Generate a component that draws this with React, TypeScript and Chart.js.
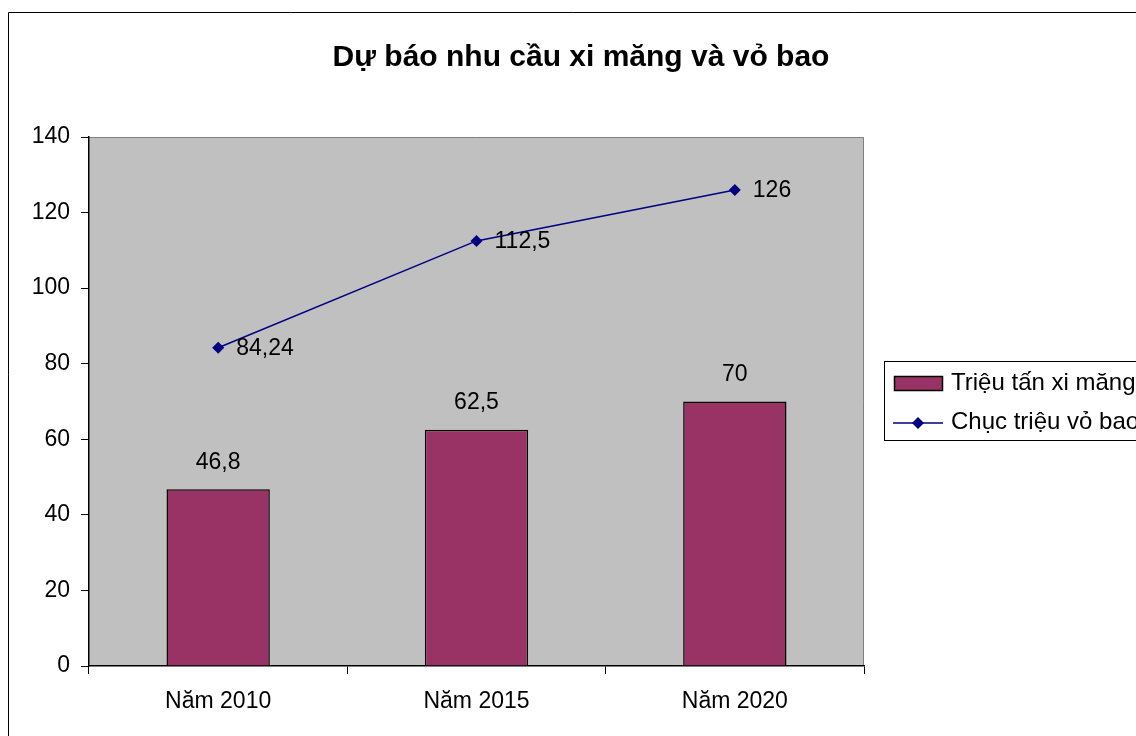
import React, { useEffect, useRef } from "react";
import { Chart, registerables } from "chart.js";

Chart.register(...registerables);

const categories = ["Năm 2010", "Năm 2015", "Năm 2020"];
const cementValues = [46.8, 62.5, 70];
const bagValues = [84.24, 112.5, 126];
const seriesNames = ["Triệu tấn xi măng", "Chục triệu vỏ bao"];
const titleText = "Dự báo nhu cầu xi măng và vỏ bao";

const FONT = "'Liberation Sans', Arial, sans-serif";
const LABEL_SIZE = 23;
const fmt = (v: number) => String(v).replace(".", ",");

const decorPlugin = {
  id: "decor",
  beforeDraw(chart: any) {
    const { ctx, chartArea } = chart;
    const { left, top, right, bottom } = chartArea;
    ctx.save();
    ctx.fillStyle = "#ffffff";
    ctx.fillRect(0, 0, chart.width, chart.height);
    // outer border
    ctx.strokeStyle = "#000000";
    ctx.lineWidth = 1;
    ctx.beginPath();
    ctx.moveTo(8.5, chart.height + 2);
    ctx.lineTo(8.5, 12.5);
    ctx.lineTo(chart.width + 2, 12.5);
    ctx.stroke();
    // plot area
    ctx.fillStyle = "#C0C0C0";
    ctx.fillRect(left, top, right - left, bottom - top);
    ctx.strokeStyle = "#808080";
    ctx.beginPath();
    ctx.moveTo(left, top + 0.5);
    ctx.lineTo(right - 0.5, top + 0.5);
    ctx.lineTo(right - 0.5, bottom);
    ctx.stroke();
    // title
    ctx.fillStyle = "#000000";
    ctx.font = `bold 30px ${FONT}`;
    ctx.textAlign = "center";
    ctx.textBaseline = "alphabetic";
    ctx.fillText(titleText, 581, 66);
    ctx.restore();
  },
  afterDatasetsDraw(chart: any) {
    const { ctx } = chart;
    ctx.save();
    ctx.fillStyle = "#000000";
    ctx.font = `${LABEL_SIZE}px ${FONT}`;
    // bar labels
    const barMeta = chart.getDatasetMeta(0);
    ctx.textAlign = "center";
    ctx.textBaseline = "middle";
    barMeta.data.forEach((el: any, i: number) => {
      ctx.fillText(fmt(cementValues[i]), el.x, el.y - 27);
    });
    // line labels
    const lineMeta = chart.getDatasetMeta(1);
    ctx.textAlign = "left";
    lineMeta.data.forEach((el: any, i: number) => {
      ctx.fillText(fmt(bagValues[i]), el.x + 18, el.y + 1);
    });
    // legend
    const lx = 884.5, ly = 361.5, lw = 300, lh = 79;
    ctx.strokeStyle = "#000000";
    ctx.lineWidth = 1;
    ctx.strokeRect(lx, ly, lw, lh);
    ctx.fillStyle = "#993366";
    ctx.fillRect(894, 376, 49, 14);
    ctx.lineWidth = 1.5;
    ctx.strokeRect(894.5, 376.5, 48, 14);
    ctx.fillStyle = "#000000";
    ctx.font = `24px ${FONT}`;
    ctx.textBaseline = "middle";
    ctx.fillText(seriesNames[0], 951, 383);
    ctx.strokeStyle = "#000080";
    ctx.lineWidth = 1.5;
    ctx.beginPath();
    ctx.moveTo(893, 423);
    ctx.lineTo(943, 423);
    ctx.stroke();
    ctx.fillStyle = "#000080";
    ctx.beginPath();
    ctx.moveTo(918, 417);
    ctx.lineTo(924, 423);
    ctx.lineTo(918, 429);
    ctx.lineTo(912, 423);
    ctx.closePath();
    ctx.fill();
    ctx.fillStyle = "#000000";
    ctx.fillText(seriesNames[1], 951, 422);
    ctx.restore();
  },
};

export default function App() {
  const canvasRef = useRef<HTMLCanvasElement | null>(null);

  useEffect(() => {
    if (!canvasRef.current) return;
    const chart = new Chart(canvasRef.current, {
      type: "bar",
      data: {
        labels: categories,
        datasets: [
          {
            type: "bar",
            label: seriesNames[0],
            data: cementValues,
            backgroundColor: "#993366",
            borderColor: "#000000",
            borderWidth: 1.5,
            barPercentage: 0.4,
            categoryPercentage: 1,
            order: 2,
          },
          {
            type: "line",
            label: seriesNames[1],
            data: bagValues,
            borderColor: "#000080",
            backgroundColor: "#000080",
            borderWidth: 1.5,
            pointStyle: "rectRot",
            pointRadius: 6,
            pointBorderWidth: 0,
            tension: 0,
            order: 1,
          },
        ],
      },
      options: {
        responsive: false,
        animation: false,
        devicePixelRatio: 1,
        layout: { padding: { left: 0, top: 137, right: 272, bottom: 0 } },
        plugins: {
          legend: { display: false },
          title: { display: false },
          tooltip: { enabled: false },
        },
        scales: {
          x: {
            offset: true,
            grid: {
              offset: true,
              drawOnChartArea: false,
              drawTicks: true,
              tickLength: 8,
              color: "#000000",
            },
            border: { display: true, color: "#000000", width: 1.5 },
            ticks: {
              color: "#000000",
              font: { family: FONT, size: LABEL_SIZE },
              padding: 14,
              maxRotation: 0,
            },
            afterFit(scale: any) {
              scale.height = 70;
            },
          },
          y: {
            min: 0,
            max: 140,
            ticks: {
              stepSize: 20,
              color: "#000000",
              font: { family: FONT, size: LABEL_SIZE },
              padding: 11,
            },
            grid: {
              drawOnChartArea: false,
              drawTicks: true,
              tickLength: 8,
              color: "#000000",
            },
            border: { display: true, color: "#000000", width: 1.5 },
            afterFit(scale: any) {
              scale.width = 89;
            },
          },
        },
      },
      plugins: [decorPlugin],
    } as any);
    return () => chart.destroy();
  }, []);

  return (
    <div style={{ position: "absolute", left: 0, top: 0, width: 1136, height: 736 }}>
      <canvas
        ref={canvasRef}
        width={1136}
        height={736}
        style={{ width: 1136, height: 736, display: "block" }}
      />
    </div>
  );
}
